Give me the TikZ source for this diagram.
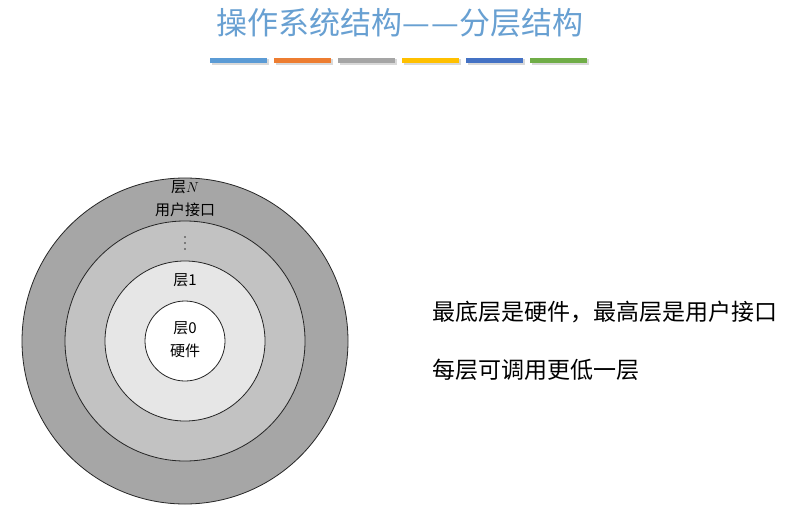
\documentclass[tikz,border=0pt]{standalone}
\usepackage{fontspec}
\newfontfamily\cjk{Noto Sans CJK SC}
\definecolor{titleblue}{RGB}{104,160,210}
\definecolor{barA}{HTML}{5B9BD5}
\definecolor{barB}{HTML}{ED7D31}
\definecolor{barC}{HTML}{A5A5A5}
\definecolor{barD}{HTML}{FFC000}
\definecolor{barE}{HTML}{4472C4}
\definecolor{barF}{HTML}{70AD47}
\definecolor{ringN}{HTML}{A6A6A6}
\definecolor{ringM}{HTML}{C2C2C2}
\definecolor{ringA}{HTML}{E6E6E6}
\begin{document}
\begin{tikzpicture}[x=1pt,y=-1pt,
  bar/.style={minimum width=57pt,minimum height=5pt,inner sep=0pt,
    draw=none},
  ring/.style={circle,draw=black!85,line width=0.8pt,inner sep=0pt},
  lab/.style={font=\fontsize{15}{17}\selectfont\cjk,inner sep=0pt,align=center},
  body/.style={font=\fontsize{23}{26}\selectfont\cjk,inner sep=0pt,anchor=west}]
\useasboundingbox (0,0) rectangle (799,526);
\fill[white] (0,0) rectangle (799,526);
% title
\node[font=\fontsize{31}{34}\selectfont\cjk,text=titleblue,inner sep=0pt] (title) at (400,23) {操作系统结构—\hspace{2pt}—分层结构};
% bars
\foreach \c [count=\i from 0] in {barA,barB,barC,barD,barE,barF}{
  \fill[black!15] (211.5+64*\i,59.5) rectangle ++(57,5.5);
  \node[bar,fill=\c] (bar\i) at (238.5+64*\i,60.5) {};
}
% rings
\node[ring,fill=ringN,minimum size=326pt] (ringN) at (185,341) {};
\node[ring,fill=ringM,minimum size=240pt] (ringM) at (185,341) {};
\node[ring,fill=ringA,minimum size=160pt] (ring1) at (185,341) {};
\node[ring,fill=white,minimum size=80pt] (ring0) at (185,341) {};
% ring labels
\node[lab] (labN) at (185,187) {层$N$};
\node[lab] (labNb) at (185,210) {用户接口};
\foreach \yy in {237,243,249} \fill[black!80] (185,\yy) circle (0.9pt);
\node[lab] (lab1) at (185,280) {层1};
\node[lab] (lab0) at (185,328) {层0};
\node[lab] (lab0b) at (185,351) {硬件};
% right text
\node[body] (t1) at (432,312) {最底层是硬件，最高层是用户接口};
\node[body] (t2) at (432,370) {每层可调用更低一层};
\end{tikzpicture}
\end{document}
